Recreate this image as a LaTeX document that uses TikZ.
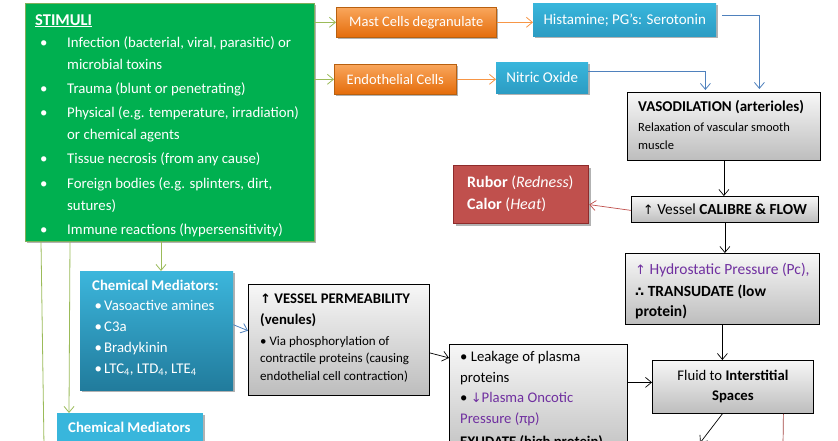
\documentclass[tikz,border=0pt]{standalone}
\usepackage{fontspec}
\setmainfont{Carlito}
\newfontfamily\symf{DejaVu Sans}
\usetikzlibrary{arrows.meta,shadows,calc}
\definecolor{stimgreen}{HTML}{00B050}
\definecolor{stimborder}{HTML}{7FAF5A}
\definecolor{olive}{HTML}{9BBB59}
\definecolor{orTop}{HTML}{F9A65C}
\definecolor{orBot}{HTML}{E46C0A}
\definecolor{orEdge}{HTML}{B8600F}
\definecolor{orLine}{HTML}{F79646}
\definecolor{blTop}{HTML}{38B6DC}
\definecolor{blBot}{HTML}{2C9CC3}
\definecolor{cmTop}{HTML}{3CB6DC}
\definecolor{cmBot}{HTML}{217B9C}
\definecolor{blLine}{HTML}{4F81BD}
\definecolor{gyTop}{HTML}{F7F7F7}
\definecolor{gyBot}{HTML}{BDBDBD}
\definecolor{redfill}{HTML}{C0504D}
\definecolor{redEdge}{HTML}{8E2B2B}
\definecolor{purp}{HTML}{7030A0}
\tikzset{
  box/.style={anchor=north west, inner sep=0pt, rectangle},
  shad/.style={drop shadow={shadow xshift=2pt,shadow yshift=-2pt,opacity=0.3,fill=black}},
  stimbox/.style={box, fill=stimgreen, draw=stimborder, line width=0.8pt, shad},
  orbox/.style={box, top color=orTop, bottom color=orBot, draw=orEdge, line width=0.6pt, text=white, font=\fontsize{14.5}{16}\selectfont, shad},
  bluebox/.style={box, top color=blTop, bottom color=blBot, draw=none, text=white, font=\fontsize{15}{17}\selectfont, shad},
  cmbox/.style={box, top color=cmTop, bottom color=cmBot, draw=none, shad},
  cmflat/.style={box, fill=blTop, draw=none, shad},
  graybox/.style={box, top color=gyTop, bottom color=gyBot, draw=black, line width=0.8pt},
  redbox/.style={box, fill=redfill, draw=redEdge, line width=1.2pt, shad},
  txt/.style={anchor=north west, inner sep=0pt, align=left},
  tip/.style={-{Straight Barb[length=6pt,width=10pt]}},
  garr/.style={tip, draw=olive, line width=0.8pt},
  oarr/.style={tip, draw=orLine, line width=0.8pt},
  barr/.style={tip, draw=blLine, line width=0.8pt},
  karr/.style={tip, draw=black, line width=0.7pt},
  rarr/.style={tip, draw=redfill, line width=0.7pt},
}
\begin{document}
\begin{tikzpicture}[x=1pt,y=-1pt]
\useasboundingbox (0,0) rectangle (838,440);
\clip (0,0) rectangle (838,440);
\fill[white] (0,0) rectangle (838,440);

% STIMULI
\node[stimbox, minimum width=289pt, minimum height=238pt] (stim) at (25,3) {};
\node[txt, text=white, font=\bfseries\fontsize{16.5}{18}\selectfont] (stimT) at (35,14) {\underline{STIMULI}};
\node[txt, text=white, font=\fontsize{14.8}{22}\selectfont] (stimL) at (40,36) {%
\makebox[27pt][l]{•}Infection (bacterial, viral, parasitic) or\\
\hspace*{27pt}microbial toxins\\[2.3pt]
\makebox[27pt][l]{•}Trauma (blunt or penetrating)\\[2.3pt]
\makebox[27pt][l]{•}Physical (e.g. temperature, irradiation)\\
\hspace*{27pt}or chemical agents\\[2.3pt]
\makebox[27pt][l]{•}Tissue necrosis (from any cause)\\[2.3pt]
\makebox[27pt][l]{•}Foreign bodies (e.g. splinters, dirt,\\
\hspace*{27pt}sutures)\\[2pt]
\makebox[27pt][l]{•}Immune reactions (hypersensitivity)};

% orange and blue top row
\node[orbox, minimum width=160pt, minimum height=30pt] (mast) at (336,7) {Mast Cells degranulate};
\node[orbox, minimum width=122pt, minimum height=30pt] (endo) at (334,64) {Endothelial Cells};
\node[bluebox, minimum width=183pt, minimum height=33pt] (hist) at (533,3) {Histamine; PG’s: Serotonin};
\node[bluebox, minimum width=92pt, minimum height=31pt] (no) at (496,62) {Nitric Oxide};

% vasodilation
\node[graybox, minimum width=193pt, minimum height=68pt] (vaso) at (627,92) {};
\node[txt, font=\bfseries\fontsize{15}{17}\selectfont] (vasoT) at (638,100) {VASODILATION (arterioles)};
\node[txt, font=\fontsize{12.5}{18}\selectfont] (vasoS) at (638,122.5) {Relaxation of vascular smooth\\muscle};

% calibre
\node[graybox, minimum width=187pt, minimum height=26pt, font=\fontsize{15.3}{17}\selectfont] (cal) at (631,196) {{\symf\fontsize{13}{15}\selectfont ↑} Vessel \textbf{CALIBRE \& FLOW}};

% red
\node[redbox, minimum width=135pt, minimum height=58pt] (red) at (453,165) {};
\node[txt, text=white, font=\fontsize{16}{22}\selectfont] (redT) at (467,175.5) {\textbf{Rubor} (\textit{Redness})\\\textbf{Calor} (\textit{Heat})};

% hydrostatic
\node[graybox, minimum width=194pt, minimum height=71pt] (hyd) at (625,253) {};
\node[txt, font=\fontsize{15.5}{20}\selectfont] (hydT) at (635,262.5) {\textcolor{purp}{{\symf\fontsize{13}{15}\selectfont ↑} Hydrostatic Pressure (Pc),}\\[2.5pt]\textbf{{\symf\fontsize{13}{15}\selectfont ∴} TRANSUDATE (low}\\\textbf{protein)}};

% fluid
\node[graybox, minimum width=161pt, minimum height=53pt, align=center, font=\fontsize{14.7}{20}\selectfont] (fluid) at (652,360) {Fluid to \textbf{Interstitial}\\\textbf{Spaces}};

% chemical mediators
\node[cmbox, minimum width=153pt, minimum height=119pt] (cm) at (80,271) {};
\node[txt, text=white, font=\fontsize{14.8}{20.8}\selectfont] (cmT) at (92,279.5) {\textbf{Chemical Mediators:}\\
\hspace*{2.5pt}\makebox[9.5pt][l]{•}Vasoactive amines\\
\hspace*{2.5pt}\makebox[9.5pt][l]{•}C3a\\
\hspace*{2.5pt}\makebox[9.5pt][l]{•}Bradykinin\\
\hspace*{2.5pt}\makebox[9.5pt][l]{•}LTC\textsubscript{4}, LTD\textsubscript{4}, LTE\textsubscript{4}};

% permeability
\node[graybox, minimum width=181pt, minimum height=111pt] (perm) at (248,284) {};
\node[txt, font=\bfseries\fontsize{14.7}{21}\selectfont] (permT) at (260,293.5) {{\symf\bfseries\fontsize{13}{15}\selectfont ↑} VESSEL PERMEABILITY\\(venules)};
\node[txt, font=\fontsize{13}{17.5}\selectfont] (permS) at (260,336) {• Via phosphorylation of\\contractile proteins (causing\\endothelial cell contraction)};

% leakage
\node[graybox, minimum width=178pt, minimum height=120pt] (leak) at (449,344) {};
\node[txt, font=\fontsize{14.7}{20.5}\selectfont] (leakT) at (460,351.5) {• Leakage of plasma\\proteins\\• \textcolor{purp}{{\symf\fontsize{13}{15}\selectfont ↓}Plasma Oncotic}\\\textcolor{purp}{Pressure (πp)}\\[2.5pt]\textbf{EXUDATE (high protein)}};

% bottom chemical mediators
\node[cmflat, minimum width=146pt, minimum height=40pt] (cm2) at (57,413) {};
\node[txt, text=white, font=\bfseries\fontsize{14.8}{16}\selectfont] (cm2T) at (68,421.5) {Chemical Mediators};

% free ends
\coordinate (gend) at (44,446);
\coordinate (fend) at (700,443);
\coordinate (rend) at (783,446);

% connectors
\draw[garr] (stim.east |- mast.west) -- (mast.west);
\draw[garr] (stim.east |- endo.west) -- (endo.west);
\draw[olive, line width=0.8pt] ([xshift=16pt]stim.south west) -- (gend);
\draw[garr] ([xshift=45pt]stim.south west) -- ([xshift=12pt]cm2.north west);
\draw[garr] ([xshift=136pt]stim.south west) -- ([xshift=81pt]cm.north west);

\draw[oarr] (mast.east) -- (hist.west |- mast.east);
\draw[oarr] (endo.east) -- (no.west |- endo.east);

\draw[barr] ([xshift=6pt,yshift=4pt]hist.east) -| ([xshift=35.5pt,yshift=3pt]vaso.north);
\draw[barr] ([yshift=6pt]no.east) -| ([xshift=-18.5pt,yshift=2pt]vaso.north);

\draw[karr] (vaso.south) -- (vaso.south |- cal.north);
\draw[karr] (cal.south) -- (cal.south |- hyd.north);
\draw[karr] (hyd.south) -- (hyd.south |- fluid.north);
\draw[rarr] ($(cal.west)+(0,1)$) -- ($(red.east)+(0,10)$);

\draw[barr] ($(cm.east)+(0,-6)$) -- (perm.west |- cm.east);
\draw[karr] ($(perm.east)+(0,13)$) -- ($(leak.west |- perm.east)+(0,18)$);
\draw[karr] ($(leak.east |- fluid.west)+(0,-4.5)$) -- ($(fluid.west)+(0,-4.5)$);

\draw[karr] ([xshift=-10.5pt]fluid.south) -- (fend);
\draw[redfill!85!black, line width=0.7pt] ([xshift=50.5pt]fluid.south) -- (rend);
\end{tikzpicture}
\end{document}
